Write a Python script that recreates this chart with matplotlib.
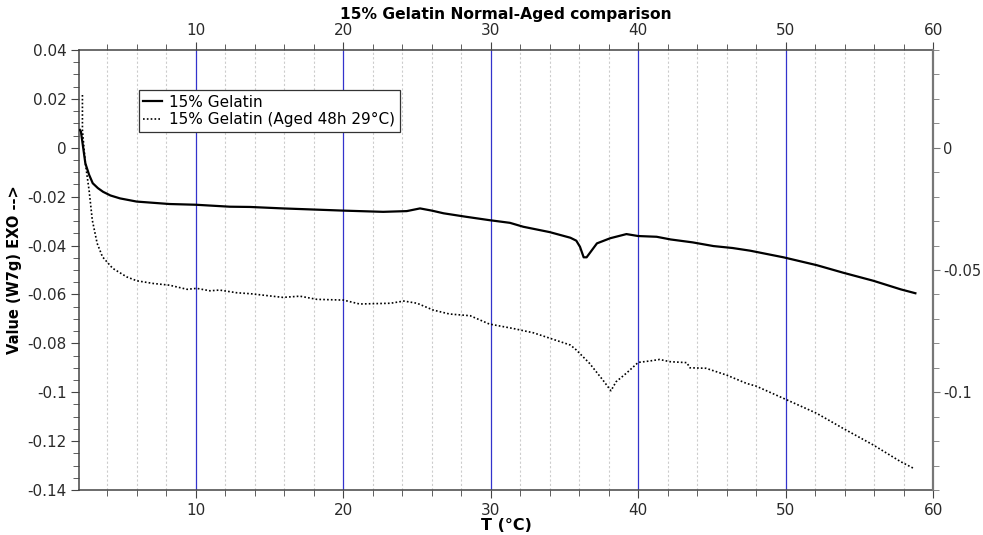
import matplotlib
matplotlib.use("Agg")
import matplotlib.pyplot as plt
from matplotlib.ticker import MultipleLocator, FixedLocator, FuncFormatter

plt.rcParams["axes.unicode_minus"] = False
plt.rcParams["font.family"] = "DejaVu Sans"

# normal sample
t_normal = [2.13, 2.2, 2.5, 2.75, 3.0, 3.35, 3.7, 4.2, 4.85, 5.98, 8.2, 10.0, 12.3, 13.66,
            15.9, 20.0, 22.7, 24.3, 25.2, 26.0, 26.8, 28.3, 29.9, 31.3, 32.2, 34.0, 35.4,
            35.8, 36.05, 36.3, 36.5, 37.2, 38.1, 39.2, 40.0, 41.25, 42.2, 43.7, 45.1, 46.4,
            47.6, 49.85, 52.1, 53.9, 55.95, 57.8, 58.8]
v_normal = [0.0073, 0.0066, -0.0064, -0.0110, -0.0145, -0.0165, -0.018, -0.0195, -0.0207,
            -0.022, -0.023, -0.0233, -0.0241, -0.0242, -0.0248, -0.0257, -0.0262, -0.0259,
            -0.0248, -0.0257, -0.0268, -0.0282, -0.0296, -0.0307, -0.0323, -0.0345, -0.0368,
            -0.038, -0.0405, -0.0448, -0.0448, -0.0391, -0.037, -0.0353, -0.0361, -0.0364,
            -0.0375, -0.0387, -0.0402, -0.0410, -0.0421, -0.0448, -0.048, -0.0511, -0.0544,
            -0.0579, -0.0595]

# aged 48h 29C sample
t_aged = [2.3, 2.3, 2.5, 2.75, 2.97, 3.3, 3.66, 4.35, 5.3, 5.98, 7.1, 8.2, 9.4, 10.05, 10.95,
          11.6, 12.76, 13.7, 15.9, 17.05, 18.2, 20.0, 21.1, 23.2, 24.1, 25.0, 26.1, 27.2,
          28.6, 29.9, 31.5, 32.9, 34.25, 35.4, 35.8, 36.7, 37.6, 38.15, 38.5, 39.2, 40.0,
          40.8, 41.45, 42.15, 43.3, 43.5, 44.6, 46.0, 47.35, 48.0, 49.85, 52.1, 53.9, 55.95,
          57.8, 58.7]
v_aged = [0.0216, 0.0073, -0.0064, -0.0173, -0.0296, -0.0391, -0.0446, -0.0493, -0.0528,
          -0.0544, -0.0555, -0.0562, -0.0579, -0.0575, -0.0585, -0.0582, -0.0593, -0.0597,
          -0.0612, -0.0607, -0.062, -0.0623, -0.0639, -0.0636, -0.0627, -0.0636, -0.0664,
          -0.068, -0.0687, -0.0721, -0.0739, -0.0757, -0.0784, -0.0807, -0.0827, -0.0882,
          -0.095, -0.0994, -0.0957, -0.0922, -0.0878, -0.0872, -0.0866, -0.0875, -0.0879,
          -0.0900, -0.0902, -0.093, -0.0964, -0.0975, -0.1025, -0.1086, -0.1148, -0.1216,
          -0.1284, -0.1312]

XLIM = (2.07, 60)
YLIM = (-0.14, 0.04)


def fmt(v, pos):
    s = "%.2f" % v
    s = s.rstrip("0").rstrip(".")
    if s in ("-0", ""):
        s = "0"
    return s


fig = plt.figure(figsize=(9.83, 5.35), dpi=100)
ax = fig.add_axes([0.0804, 0.0841, 0.8688, 0.8224])

# grid: light dotted every 2, blue every 10
for x in range(4, 60, 2):
    if x % 10 == 0:
        ax.axvline(x, color="#3333cc", lw=0.9, zorder=1)
    else:
        ax.axvline(x, color="#cccccc", lw=0.8, ls=(0, (2, 2)), zorder=1)

ax.plot(t_normal, v_normal, color="black", lw=1.6, label="15% Gelatin", zorder=3)
ax.plot(t_aged, v_aged, color="black", lw=1.2, ls=(0, (1, 1.3)),
        label="15% Gelatin (Aged 48h 29\u00b0C)", zorder=3)

ax.set_xlim(*XLIM)
ax.set_ylim(*YLIM)
ax.xaxis.set_major_locator(MultipleLocator(10))
ax.xaxis.set_minor_locator(MultipleLocator(2))
ax.yaxis.set_major_locator(MultipleLocator(0.02))
ax.yaxis.set_minor_locator(MultipleLocator(0.005))
ax.yaxis.set_major_formatter(FuncFormatter(fmt))
ax.tick_params(axis="both", which="major", labelsize=11, length=6, color="#444444",
               labelcolor="#2a2a2a", top=True, labeltop=True, pad=3)
ax.tick_params(axis="both", which="minor", length=4, color="#444444", top=True)
ax.tick_params(axis="x", which="both", direction="out")

for side in ("left", "bottom", "top"):
    ax.spines[side].set_color("#444444")
    ax.spines[side].set_linewidth(1.1)
ax.spines["right"].set_visible(False)

ax2 = ax.twinx()
ax2.set_ylim(*YLIM)
ax2.yaxis.set_major_locator(FixedLocator([0, -0.05, -0.1]))
ax2.yaxis.set_minor_locator(MultipleLocator(0.01))
ax2.yaxis.set_major_formatter(FuncFormatter(fmt))
ax2.tick_params(axis="y", which="major", labelsize=10.5, length=5, color="#777777",
                labelcolor="#2a2a2a", pad=2)
ax2.tick_params(axis="y", which="minor", length=4, color="#777777")
ax2.spines["right"].set_color("#777777")
ax2.spines["right"].set_linewidth(1.6)
for side in ("left", "bottom", "top"):
    ax2.spines[side].set_visible(False)

ax.set_title("15% Gelatin Normal-Aged comparison", fontsize=11.2, fontweight="bold", pad=22)
ax.set_xlabel("T (\u00b0C)", fontsize=11.5, fontweight="bold", labelpad=0)
ax.set_ylabel("Value (W7g) EXO -->", fontsize=10.5, fontweight="bold", labelpad=4)

leg = ax.legend(loc="upper left", bbox_to_anchor=(0.070, 0.909), fontsize=11,
                fancybox=False, framealpha=1, edgecolor="#333333", borderaxespad=0,
                handlelength=1.2, handletextpad=0.5, borderpad=0.3, labelspacing=0.15)
leg.get_frame().set_linewidth(0.9)
leg.set_zorder(5)

fig.savefig("out.png", dpi=100)
